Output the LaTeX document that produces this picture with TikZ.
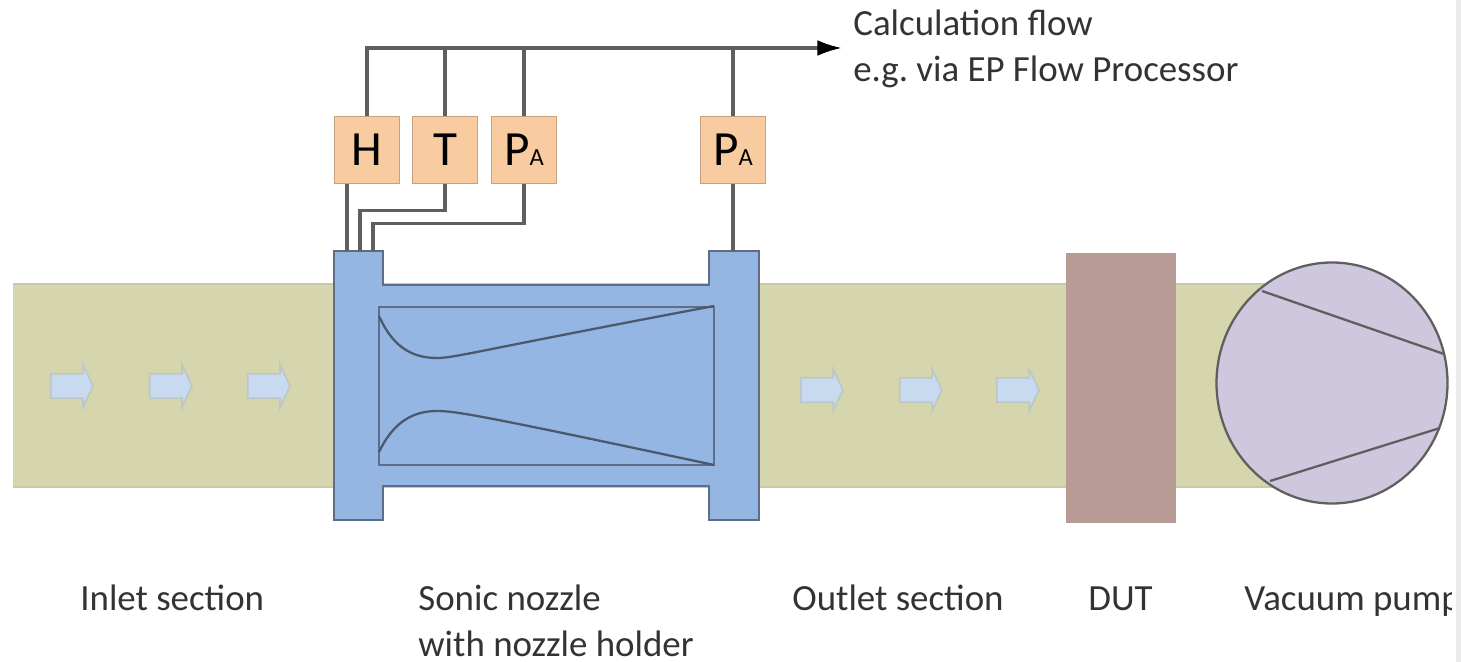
\documentclass[tikz,border=0pt]{standalone}
\usepackage{fontspec}
\setmainfont{Carlito}
\usetikzlibrary{shapes.arrows,arrows.meta}
\definecolor{bandcol}{HTML}{D6D6AE}
\definecolor{holdercol}{HTML}{95B6E3}
\definecolor{holderline}{HTML}{5F6E86}
\definecolor{sensorcol}{HTML}{F8CBA0}
\definecolor{dutcol}{HTML}{B99B96}
\definecolor{pumpcol}{HTML}{CFC7DE}
\definecolor{flowcol}{HTML}{C8DAF0}
\definecolor{linecol}{HTML}{5F5F5F}
\tikzset{
  sensor/.style = {draw=sensorcol!80!black, fill=sensorcol, line width=0.4pt,
    minimum width=37pt, minimum height=38.5pt, inner sep=0pt, font=\fontsize{28}{30}\selectfont},
  flowarrow/.style = {single arrow, draw=flowcol!60!bandcol!80!gray, fill=flowcol, line width=1pt,
    minimum width=23pt, minimum height=24pt, single arrow head extend=5pt,
    single arrow tip angle=130, inner xsep=0pt, inner ysep=6.5pt},
  wire/.style = {draw=linecol, line width=1.8pt},
  label/.style = {anchor=base west, inner sep=0pt, font=\fontsize{21}{24}\selectfont, text=black!80}
}
\newcommand{\pa}{P{\fontsize{14}{14}\selectfont A}}
\frenchspacing
\begin{document}
\begin{tikzpicture}[x=0.02cm, y=-0.02cm]
 \useasboundingbox (0,0) rectangle (1461,662);
 % pipe
 \fill[bandcol] (13,284) rectangle (1290,487);
 \draw[bandcol!85!gray, line width=1pt] (13,284) -- (1290,284) (13,487) -- (1290,487);
 % nozzle holder
 \draw[draw=holderline, fill=holdercol, line width=1.5pt] (334,251) -- (383,251) -- (383,285) -- (709,285)
   -- (709,251) -- (759,251) -- (759,520) -- (709,520) -- (709,486) -- (383,486)
   -- (383,520) -- (334,520) -- cycle;
 \draw[draw=holderline, line width=1.5pt] (379,307) rectangle (714,465);
 \draw[draw=holderline!80!black, line width=1.3pt] (379,316) .. controls (392,345) and (410,358) .. (437,358)
   .. controls (455,358) and (480,350) .. (714,306);
 \draw[draw=holderline!80!black, line width=1.3pt] (379,452) .. controls (392,425) and (410,411) .. (437,411)
   .. controls (455,411) and (480,415) .. (714,465);
 % device and pump
 \node[fill=dutcol, inner sep=0pt, minimum width=62.6pt, minimum height=153.6pt] (dut) at (1121,388) {};
 \draw[draw=linecol, fill=pumpcol, line width=1.3pt] (1332,383) ellipse [x radius=115.5, y radius=120.5];
 \draw[draw=linecol, line width=1.3pt] (1262,291) -- (1444,354) (1270,481) -- (1440,428);
 % flow arrows
 \foreach \xpos in {69,168,266} \node[flowarrow] (in\xpos) at (\xpos,386) {};
 \foreach \xpos in {819,918,1015} \node[flowarrow] (out\xpos) at (\xpos,390) {};
 % sensors
 \node[sensor] (sensH) at (367,150) {H};
 \node[sensor] (sensT) at (445,150) {T};
 \node[sensor] (sensPa) at (524,150) {\pa};
 \node[sensor] (sensPb) at (733,150) {\pa};
 \coordinate (busstart) at (367,48);
 \coordinate (busend) at (842,48);
 \coordinate (holdH) at (347,251);
 \coordinate (holdT) at (360,251);
 \coordinate (holdP) at (373,251);
 \coordinate (holdR) at (733,251);
 \draw[wire, -{Latex[length=14pt,width=9pt,black]}] (sensH.north) -- (busstart) -- (busend);
 \draw[wire] (sensT.north) -- (sensT.north |- busstart);
 \draw[wire] (sensPa.north) -- (sensPa.north |- busstart);
 \draw[wire] (sensPb.north) -- (sensPb.north |- busstart);
 \draw[wire] (sensH.south -| holdH) -- (holdH);
 \draw[wire] (sensT.south) -- ++(0,26) -| (holdT);
 \draw[wire] (sensPa.south) -- ++(0,39) -| (holdP);
 \draw[wire] (sensPb.south) -- (holdR);
 % labels
 \node[label] (calcone) at (853,36) {Calculation flow};
 \node[label] (calctwo) at (853,82) {e.g. via EP Flow Processor};
 \node[label] (inlet) at (80,610) {Inlet section};
 \node[label] (nozzleone) at (418,610) {Sonic nozzle};
 \node[label] (nozzletwo) at (418,656) {with nozzle holder};
 \node[label] (outlet) at (792,610) {Outlet section};
 \node[label] (dutlabel) at (1088,610) {DUT};
 \node[label] (pumplabel) at (1244,610) {Vacuum pump};
 % right edge
 \fill[white] (1452,560) rectangle (1461,662);
 \fill[black!8] (1456,0) rectangle (1461,662);
\end{tikzpicture}
\end{document}
